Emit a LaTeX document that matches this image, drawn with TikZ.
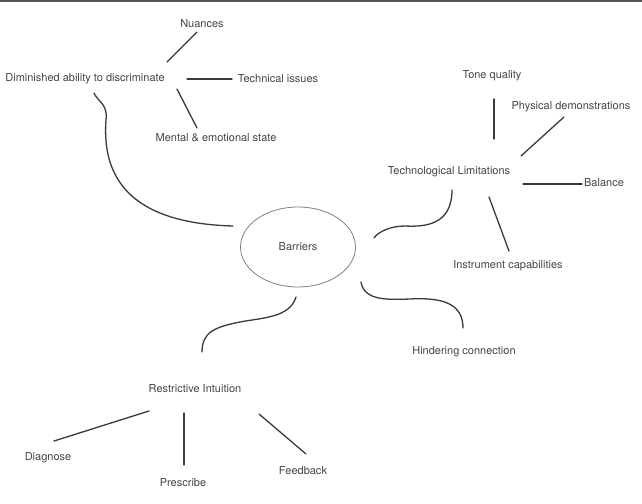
\documentclass[tikz,border=0pt]{standalone}
\usepackage{fontspec}
\setmainfont{TeX Gyre Heros}
\usetikzlibrary{shapes.geometric,calc}
\definecolor{txt}{HTML}{444444}
\definecolor{ln}{HTML}{3A3A3A}
\definecolor{ell}{HTML}{808080}
\definecolor{bar}{HTML}{555555}
\begin{document}
\begin{tikzpicture}[x=1pt,y=-1pt,
  lbl/.style={text=txt,font=\fontsize{11}{13}\selectfont,inner sep=0pt},
  conn/.style={draw=ln,line width=1.3pt,line cap=round},
  curv/.style={draw=ln,line width=1.3pt,line cap=round}]
\useasboundingbox (0,0) rectangle (642,503);
\fill[bar] (0,0) rectangle (642,2.5);
% nodes
\node[lbl] (nuances) at (202,24) {Nuances};
\node[lbl] (dim) at (85,79) {Diminished ability to discriminate};
\node[lbl] (tech) at (278,79) {Technical issues};
\node[lbl] (mental) at (216,138) {Mental \& emotional state};
\node[lbl] (tone) at (492,76) {Tone quality};
\node[lbl] (phys) at (571,107) {Physical demonstrations};
\node[lbl] (techlim) at (449,172) {Technological Limitations};
\node[lbl] (balance) at (604,183) {Balance};
\node[lbl] (instr) at (508,266) {Instrument capabilities};
\node[lbl,ellipse,draw=ell,line width=0.8pt,minimum width=115pt,minimum height=80pt] (barriers) at (298,247) {Barriers};
\node[lbl] (hinder) at (464,352) {Hindering connection};
\node[lbl] (restr) at (195,389) {Restrictive Intuition};
\node[lbl] (diag) at (48,458) {Diagnose};
\node[lbl] (presc) at (183,483) {Prescribe};
\node[lbl] (feed) at (303,471) {Feedback};
% straight connectors
\draw[conn] ($(dim)+(82,-17)$) -- ($(nuances)+(-5,8)$);
\draw[conn] ($(dim)+(102,0)$) -- ($(tech)+(-46,0)$);
\draw[conn] ($(dim)+(92,10)$) -- ($(mental)+(-19,-10)$);
\draw[conn] ($(tone)+(2,23)$) -- ($(techlim)+(45,-33)$);
\draw[conn] ($(phys)+(-7,10)$) -- ($(techlim)+(72,-16)$);
\draw[conn] ($(techlim)+(74,12)$) -- ($(balance)+(-22,1)$);
\draw[conn] ($(techlim)+(40,25)$) -- ($(instr)+(1,-15)$);
\draw[conn] ($(restr)+(-46,22)$) -- ($(diag)+(6,-17)$);
\draw[conn] ($(restr)+(-11,24)$) -- ($(presc)+(1,-18)$);
\draw[conn] ($(restr)+(64,25)$) -- ($(feed)+(3,-17)$);
% curved connectors
\draw[curv] ($(dim)+(9,14)$) .. controls (98,102) and (108,104) .. (106,120)
  .. controls (100,200) and (160,224) .. ($(barriers)+(-65,-21)$);
\draw[curv] ($(techlim)+(3,18)$) .. controls (452,225) and (425,227) .. (405,226)
  .. controls (390,226) and (378,232) .. ($(barriers)+(76,-9)$);
\draw[curv] ($(barriers)+(-2,50)$) .. controls (290,318) and (260,318) .. (240,322)
  .. controls (215,327) and (202,332) .. ($(restr)+(7,-37)$);
\draw[curv] ($(barriers)+(63,35)$) .. controls (364,300) and (385,300) .. (410,299)
  .. controls (445,297) and (463,305) .. ($(hinder)+(-1,-24)$);
\end{tikzpicture}
\end{document}
